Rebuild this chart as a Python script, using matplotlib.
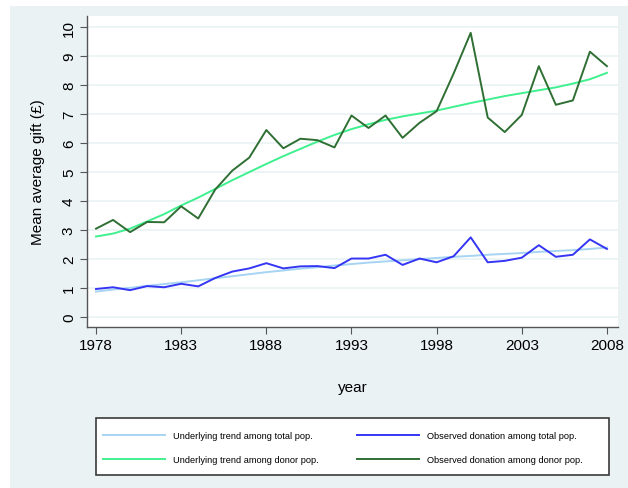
"""Mean average gift: observed donations vs underlying trend, 1978-2008."""

import matplotlib

matplotlib.use("Agg")

import matplotlib.pyplot as plt
from matplotlib.patches import Rectangle

plt.rcParams["font.family"] = ["Liberation Sans", "DejaVu Sans"]

YEARS = list(range(1978, 2009))

OBSERVED_DONOR = [
    3.05, 3.35, 2.93, 3.28, 3.27, 3.82, 3.40, 4.40, 5.05, 5.50,
    6.45, 5.82, 6.15, 6.10, 5.85, 6.95, 6.52, 6.95, 6.18, 6.70,
    7.10, 8.40, 9.80, 6.88, 6.38, 6.97, 8.65, 7.32, 7.47, 9.15,
    8.65,
]
TREND_DONOR = [
    2.78, 2.88, 3.05, 3.30, 3.55, 3.85, 4.12, 4.42, 4.72, 5.00,
    5.28, 5.55, 5.80, 6.05, 6.28, 6.48, 6.65, 6.80, 6.92, 7.02,
    7.12, 7.25, 7.38, 7.50, 7.62, 7.72, 7.82, 7.92, 8.05, 8.20,
    8.42,
]
OBSERVED_TOTAL = [
    0.97, 1.03, 0.93, 1.07, 1.03, 1.15, 1.06, 1.35, 1.57, 1.68,
    1.86, 1.68, 1.75, 1.76, 1.69, 2.02, 2.02, 2.15, 1.80, 2.02,
    1.89, 2.10, 2.75, 1.89, 1.94, 2.05, 2.48, 2.08, 2.15, 2.68,
    2.35,
]
TREND_TOTAL = [
    0.88, 0.95, 1.01, 1.08, 1.14, 1.20, 1.27, 1.34, 1.41, 1.48,
    1.55, 1.61, 1.67, 1.72, 1.78, 1.83, 1.88, 1.92, 1.96, 2.00,
    2.04, 2.08, 2.11, 2.15, 2.18, 2.21, 2.25, 2.28, 2.31, 2.35,
    2.40,
]
X_TICKS = [1978, 1983, 1988, 1993, 1998, 2003, 2008]
Y_TICKS = list(range(0, 11))

BG = "#eaf2f3"
W, H = 628, 489


def fx(px):
    return px / W


def fy(py):
    return 1 - py / H


def main() -> None:
    fig = plt.figure(figsize=(W / 100, H / 100), dpi=100)
    fig.patches.append(Rectangle((fx(10), 0), 1, fy(7),
                                 transform=fig.transFigure,
                                 facecolor=BG, edgecolor="none", zorder=-10))

    ax = fig.add_axes([fx(87), fy(328), fx(531), 311 / H])
    ax.set_facecolor("white")

    l_tt, = ax.plot(YEARS, TREND_TOTAL, color="#a6d4f2", lw=1.4,
                    label="Underlying trend among total pop.")
    l_td, = ax.plot(YEARS, TREND_DONOR, color="#3ff08f", lw=1.4,
                    label="Underlying trend among donor pop.")
    l_ot, = ax.plot(YEARS, OBSERVED_TOTAL, color="#3535f5", lw=1.4,
                    label="Observed donation among total pop.")
    l_od, = ax.plot(YEARS, OBSERVED_DONOR, color="#2f6f33", lw=1.4,
                    label="Observed donation among donor pop.")

    ax.set_xlim(1977.47, 2008.65)
    ax.set_ylim(-0.34, 10.38)
    ax.set_xticks(X_TICKS)
    ax.set_yticks(Y_TICKS)
    ax.tick_params(axis="both", labelsize=11, length=5, color="#555555",
                   pad=3)
    ax.tick_params(axis="y", labelrotation=90)
    for label in ax.get_yticklabels():
        label.set_va("center")
    ax.grid(axis="y", color=BG, lw=1.2)
    ax.set_axisbelow(True)

    for side in ("top", "right"):
        ax.spines[side].set_visible(False)
    for side in ("left", "bottom"):
        ax.spines[side].set_color("#555555")
        ax.spines[side].set_linewidth(1.0)

    ax.set_ylabel("Mean average gift (£)", fontsize=11, labelpad=12)
    ax.set_xlabel("year", fontsize=11, labelpad=20)

    # legend box drawn by hand, entries placed in two separate columns
    fig.patches.append(Rectangle((fx(96), fy(476)), fx(513), 57 / H,
                                 transform=fig.transFigure,
                                 facecolor="white", edgecolor="#3a3a3a",
                                 lw=1.2, zorder=1))
    leg_opts = dict(loc="upper left", fontsize=6.7, frameon=False,
                    handlelength=6.7, handletextpad=0.86, labelspacing=1.6,
                    borderpad=0, borderaxespad=0)
    fig.legend(handles=[l_tt, l_td], bbox_to_anchor=(fx(103), fy(432)),
               **leg_opts)
    fig.legend(handles=[l_ot, l_od], bbox_to_anchor=(fx(357), fy(432)),
               **leg_opts)

    fig.savefig("out.png", dpi=100)
    plt.close(fig)


if __name__ == "__main__":
    main()
